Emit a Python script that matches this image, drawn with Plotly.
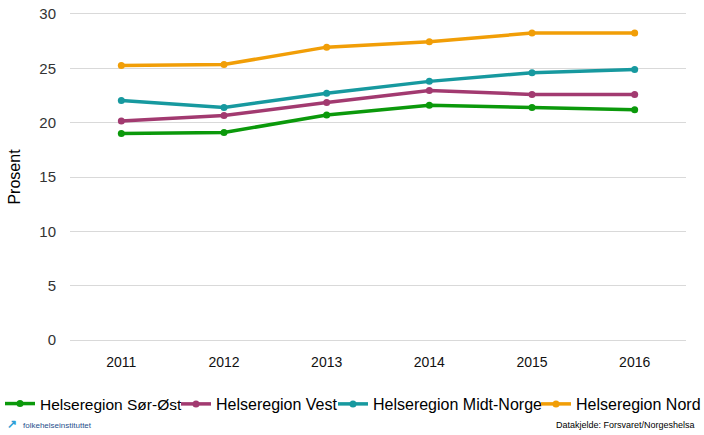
import plotly.graph_objects as go

years = ["2011", "2012", "2013", "2014", "2015", "2016"]
sor_ost = [19.0, 19.1, 20.7, 21.6, 21.4, 21.2]
vest = [20.15, 20.65, 21.85, 22.95, 22.6, 22.6]
midt_norge = [22.05, 21.4, 22.7, 23.8, 24.6, 24.9]
nord = [25.25, 25.35, 26.95, 27.45, 28.25, 28.25]

series = [
    ("Helseregion Sør-Øst", sor_ost, "#0B990B"),
    ("Helseregion Vest", vest, "#A23A70"),
    ("Helseregion Midt-Norge", midt_norge, "#17999F"),
    ("Helseregion Nord", nord, "#F19E07"),
]
legend_ids = ["legend", "legend2", "legend3", "legend4"]
legend_x = [0.0, 0.2500, 0.4730, 0.7614]
legend_fs = [15.5, 16, 16, 16]

W, H = 704, 435

fig = go.Figure()
for (name, vals, col), lid in zip(series, legend_ids):
    fig.add_trace(go.Scatter(
        x=years, y=vals, name=name, mode="lines+markers",
        line=dict(color=col, width=3.5),
        marker=dict(color=col, size=7),
        legend=lid,
    ))

font = "Liberation Sans, Arial, sans-serif"
layout_legends = {}
for lid, lx, fs in zip(legend_ids, legend_x, legend_fs):
    layout_legends[lid] = dict(
        orientation="h", xref="container", yref="container",
        x=lx, xanchor="left", y=0.0713, yanchor="middle",
        font=dict(size=fs, color="#000000"),
        itemwidth=30, bgcolor="rgba(0,0,0,0)")

fig.update_layout(
    width=W, height=H,
    margin=dict(l=70, r=18, t=14, b=95, autoexpand=False),
    paper_bgcolor="white", plot_bgcolor="white",
    font=dict(family=font, color="#000000"),
    showlegend=True,
    xaxis=dict(type="category", range=[-0.5, 5.5], showgrid=False,
               showline=True, linecolor="#D9D9D9", linewidth=1, mirror=True,
               ticks="", ticklabelstandoff=9,
               tickfont=dict(size=14, color="#111111")),
    yaxis=dict(range=[0, 30], dtick=5, showgrid=True, gridcolor="#D9D9D9",
               gridwidth=1, zeroline=False, showline=False, ticks="",
               ticklabelstandoff=13, ticklabeloverflow="allow",
               tickfont=dict(size=15, color="#333333"),
               title=dict(text="Prosent", font=dict(size=16, color="#000000"),
                          standoff=14)),
    annotations=[
        dict(text="Datakjelde: Forsvaret/Norgeshelsa", xref="paper", yref="paper",
             x=1.018, y=-0.261, xanchor="right", yanchor="middle", showarrow=False,
             font=dict(size=9, color="#000000")),
        dict(text="<b>↗</b>", xref="paper", yref="paper",
             x=-0.094, y=-0.258, xanchor="center", yanchor="middle", showarrow=False,
             font=dict(size=12, color="#2E9FD6")),
        dict(text="folkehelseinstituttet", xref="paper", yref="paper",
             x=-0.079, y=-0.261, xanchor="left", yanchor="middle", showarrow=False,
             font=dict(size=8, color="#1F4F8C", family="Liberation Sans Narrow, Liberation Sans, sans-serif")),
    ],
    **layout_legends,
)

fig.write_html("out.html", config={"displayModeBar": False},
               post_script="document.body.style.margin='0px';")
